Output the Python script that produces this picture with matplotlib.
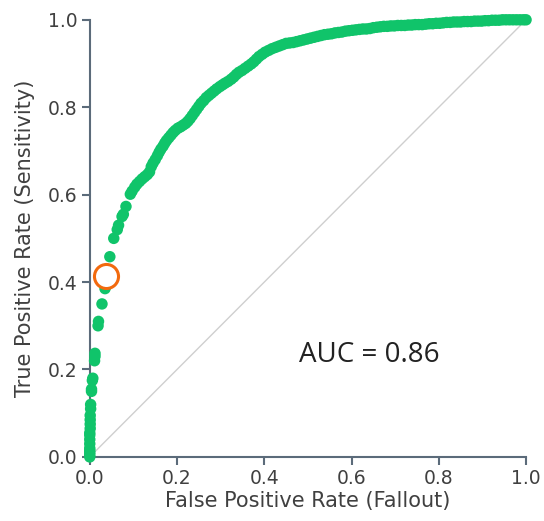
import matplotlib
matplotlib.use("Agg")
import matplotlib.pyplot as plt

# ROC curve points (false positive rate, true positive rate)
fpr = [0.0, 0.0, 0.0, 0.0, 0.0, 0.0, 0.0, 0.0, 0.0, 0.001, 0.001, 0.001, 0.001,
       0.002, 0.002, 0.004, 0.004, 0.006, 0.007, 0.011, 0.012, 0.012,
       0.019, 0.020, 0.028, 0.035, 0.036, 0.046, 0.055, 0.063, 0.066, 0.074,
       0.077, 0.083,
       0.093, 0.097, 0.103, 0.108, 0.114, 0.120, 0.126, 0.132, 0.137, 0.141,
       0.145, 0.150, 0.155, 0.159, 0.163, 0.168, 0.172, 0.176, 0.181, 0.186,
       0.191, 0.196, 0.202, 0.208, 0.214, 0.220, 0.225, 0.230, 0.235, 0.240,
       0.245, 0.250, 0.255, 0.261, 0.267, 0.273, 0.279, 0.285, 0.291, 0.298,
       0.304, 0.310, 0.317, 0.324, 0.330, 0.336, 0.342, 0.349, 0.356, 0.363,
       0.370, 0.376, 0.382, 0.388, 0.395, 0.402, 0.410, 0.418, 0.426, 0.434,
       0.442, 0.450, 0.458, 0.466, 0.474, 0.482, 0.490, 0.498, 0.506, 0.514,
       0.522, 0.530, 0.538, 0.546, 0.554, 0.562, 0.570, 0.578, 0.586, 0.594,
       0.602, 0.610, 0.618, 0.626, 0.634, 0.642, 0.650, 0.658, 0.666, 0.674,
       0.682, 0.690, 0.698, 0.706, 0.714, 0.722, 0.730, 0.738, 0.746, 0.754,
       0.762, 0.770, 0.778, 0.786, 0.794, 0.802, 0.810, 0.818, 0.826, 0.834,
       0.842, 0.850, 0.858, 0.866, 0.874, 0.882, 0.890, 0.898, 0.906, 0.914,
       0.922, 0.930, 0.938, 0.946, 0.954, 0.962, 0.970, 0.978, 0.986, 0.994,
       1.0]
tpr = [0.0, 0.005, 0.010, 0.015, 0.020, 0.030, 0.040, 0.050, 0.055, 0.065, 0.075, 0.085, 0.095,
       0.110, 0.120, 0.150, 0.155, 0.175, 0.180, 0.220, 0.230, 0.237,
       0.300, 0.310, 0.350, 0.385, 0.390, 0.458, 0.500, 0.520, 0.530, 0.550,
       0.555, 0.573,
       0.601, 0.608, 0.617, 0.624, 0.630, 0.636, 0.641, 0.646, 0.652, 0.664,
       0.672, 0.680, 0.689, 0.697, 0.704, 0.711, 0.718, 0.724, 0.730, 0.736,
       0.742, 0.747, 0.752, 0.755, 0.759, 0.763, 0.768, 0.774, 0.781, 0.788,
       0.795, 0.802, 0.809, 0.815, 0.822, 0.827, 0.832, 0.837, 0.842, 0.847,
       0.851, 0.855, 0.859, 0.864, 0.869, 0.875, 0.880, 0.884, 0.889, 0.894,
       0.899, 0.904, 0.910, 0.916, 0.921, 0.926, 0.930, 0.934, 0.937, 0.940,
       0.943, 0.946, 0.947, 0.948, 0.950, 0.952, 0.954, 0.956, 0.958, 0.960,
       0.962, 0.964, 0.966, 0.967, 0.968, 0.970, 0.971, 0.972, 0.974, 0.975,
       0.976, 0.977, 0.978, 0.979, 0.979, 0.980, 0.982, 0.983, 0.984, 0.985,
       0.985, 0.986, 0.986, 0.987, 0.987, 0.987, 0.988, 0.988, 0.989, 0.989,
       0.989, 0.990, 0.991, 0.991, 0.992, 0.992, 0.993, 0.994, 0.994, 0.995,
       0.995, 0.995, 0.996, 0.996, 0.996, 0.997, 0.997, 0.997, 0.998, 0.998,
       0.999, 0.999, 0.999, 1.0, 1.0, 1.0, 1.0, 1.0, 1.0, 1.0,
       1.0]

# chosen operating point
op_fpr, op_tpr = 0.037, 0.413
auc = 0.86

axis_col = "#5b6b7a"
text_col = "#404040"

fig = plt.figure(figsize=(5.44, 5.21), dpi=100)
ax = fig.add_axes([0.165, 0.123, 0.802, 0.839])

ax.plot([0, 1], [0, 1], color="#cfcfcf", lw=1, zorder=1)
ax.scatter(fpr, tpr, s=68, color="#10c46a", edgecolors="none", zorder=3, clip_on=False)
ax.scatter([op_fpr], [op_tpr], s=300, facecolors="white", edgecolors="#f26a0e",
           linewidths=2.2, zorder=4, clip_on=False)

ax.text(0.64, 0.233, f"AUC = {auc}", fontsize=20, family="Open Sans",
        color="#222222", ha="center", va="center")

ax.set_xlim(0, 1)
ax.set_ylim(0, 1)
ticks = [0.0, 0.2, 0.4, 0.6, 0.8, 1.0]
ax.set_xticks(ticks)
ax.set_yticks(ticks)
ax.set_xticklabels([f"{t:.1f}" for t in ticks])
ax.set_yticklabels([f"{t:.1f}" for t in ticks])

for s in ["top", "right"]:
    ax.spines[s].set_visible(False)
for s in ["left", "bottom"]:
    ax.spines[s].set_color(axis_col)
    ax.spines[s].set_linewidth(1.5)

ax.tick_params(direction="out", length=6, width=1.5, color=axis_col,
               labelsize=13.5, labelcolor=text_col, pad=3)
ax.set_xlabel("False Positive Rate (Fallout)", fontsize=15, color=text_col, labelpad=2)
ax.set_ylabel("True Positive Rate (Sensitivity)", fontsize=15, color=text_col, labelpad=9)

fig.savefig("out.png", dpi=100)
